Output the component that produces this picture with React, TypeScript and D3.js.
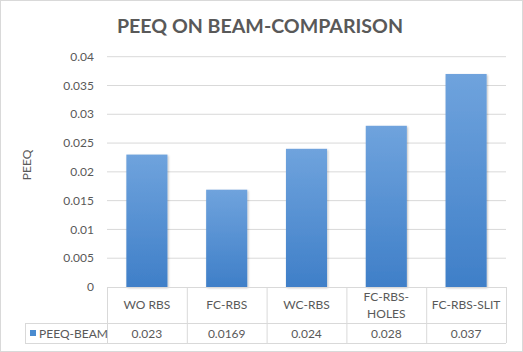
import React from "react";
import * as d3 from "d3";

const categories = ["WO RBS", "FC-RBS", "WC-RBS", "FC-RBS-HOLES", "FC-RBS-SLIT"];
const categoryLines = [["WO RBS"], ["FC-RBS"], ["WC-RBS"], ["FC-RBS-", "HOLES"], ["FC-RBS-SLIT"]];
const peeqBeam = [0.023, 0.0169, 0.024, 0.028, 0.037];
const valueLabels = ["0.023", "0.0169", "0.024", "0.028", "0.037"];
const yTicks = [0, 0.005, 0.01, 0.015, 0.02, 0.025, 0.03, 0.035, 0.04];
const seriesName = "PEEQ-BEAM";

const W = 523;
const H = 352;
const plotLeft = 107;
const plotRight = 506;
const plotTop = 56.7;
const plotBottom = 287;
const tableLeft = 25;
const rowSplit = 323;
const tableBottom = 343;

const font = "Lato, 'Open Sans', sans-serif";
const textColor = "#595959";
const lineColor = "#D9D9D9";

export default function App() {
  const x = d3.scaleBand<string>().domain(categories).range([plotLeft, plotRight]).padding(0);
  const y = d3.scaleLinear().domain([0, 0.04]).range([plotBottom, plotTop]);
  const barW = x.bandwidth() * 0.515;

  return (
    <svg
      width={W}
      height={H}
      style={{ position: "absolute", left: 0, top: 0, background: "#fff" }}
      fontFamily={font}
    >
      <defs>
        <linearGradient id="barGrad" x1="0" y1="0" x2="0" y2="1">
          <stop offset="0" stopColor="#6FA3DD" />
          <stop offset="1" stopColor="#3F7FC8" />
        </linearGradient>
        <filter id="shadow" x="-20%" y="-20%" width="140%" height="140%">
          <feGaussianBlur in="SourceAlpha" stdDeviation="1" />
          <feOffset dx="0.5" dy="0.5" result="b" />
          <feComponentTransfer>
            <feFuncA type="linear" slope="0.25" />
          </feComponentTransfer>
          <feMerge>
            <feMergeNode />
            <feMergeNode in="SourceGraphic" />
          </feMerge>
        </filter>
      </defs>
      <rect x={0.5} y={0.5} width={W - 1} height={H - 1} fill="#fff" stroke={lineColor} />

      <text
        x={260}
        y={33}
        textAnchor="middle"
        fontSize={19.6}
        fontWeight="bold"
        fill={textColor}
      >
        PEEQ ON BEAM-COMPARISON
      </text>

      {/* grid + tick labels */}
      {yTicks.map((t) => (
        <g key={t}>
          {t > 0 && (
            <line x1={plotLeft} x2={plotRight} y1={y(t)} y2={y(t)} stroke={lineColor} strokeWidth={1} />
          )}
          <text x={94} y={y(t)} dy="0.35em" textAnchor="end" fontSize={12} fill={textColor}>
            {String(t)}
          </text>
        </g>
      ))}

      <text
        transform={`translate(31,165) rotate(-90)`}
        textAnchor="middle"
        fontSize={12}
        fill={textColor}
      >
        PEEQ
      </text>

      {/* bars */}
      {categories.map((c, i) => {
        const cx = (x(c) as number) + x.bandwidth() / 2;
        return (
          <rect
            key={c}
            x={cx - barW / 2}
            y={y(peeqBeam[i])}
            width={barW}
            height={y(0) - y(peeqBeam[i])}
            fill="url(#barGrad)"
            filter="url(#shadow)"
          />
        );
      })}

      {/* data table */}
      <g stroke={lineColor} strokeWidth={1} fill="none">
        <line x1={plotLeft} x2={plotRight} y1={plotBottom + 0.5} y2={plotBottom + 0.5} />
        <line x1={tableLeft} x2={plotRight} y1={rowSplit + 0.5} y2={rowSplit + 0.5} />
        <line x1={tableLeft} x2={plotRight} y1={tableBottom + 0.5} y2={tableBottom + 0.5} />
        <line x1={tableLeft + 0.5} x2={tableLeft + 0.5} y1={rowSplit} y2={tableBottom} />
        {categories.map((c) => (
          <line key={c} x1={(x(c) as number) + 0.5} x2={(x(c) as number) + 0.5} y1={plotBottom} y2={tableBottom} />
        ))}
        <line x1={plotRight + 0.5} x2={plotRight + 0.5} y1={plotBottom} y2={tableBottom} />
      </g>

      {categories.map((c, i) => {
        const cx = (x(c) as number) + x.bandwidth() / 2;
        const lines = categoryLines[i];
        const midY = (plotBottom + rowSplit) / 2;
        return (
          <g key={c}>
            {lines.map((l, k) => (
              <text
                key={k}
                x={cx}
                y={midY + (k - (lines.length - 1) / 2) * 17}
                dy="0.35em"
                textAnchor="middle"
                fontSize={12}
                fill={textColor}
              >
                {l}
              </text>
            ))}
            <text
              x={cx}
              y={(rowSplit + tableBottom) / 2 + 1}
              dy="0.35em"
              textAnchor="middle"
              fontSize={12}
              fill={textColor}
            >
              {valueLabels[i]}
            </text>
          </g>
        );
      })}

      <rect x={30} y={330} width={6} height={6} fill="#4A8BD0" />
      <text x={39} y={(rowSplit + tableBottom) / 2 + 1} dy="0.35em" fontSize={12} fill={textColor}>
        {seriesName}
      </text>
    </svg>
  );
}
